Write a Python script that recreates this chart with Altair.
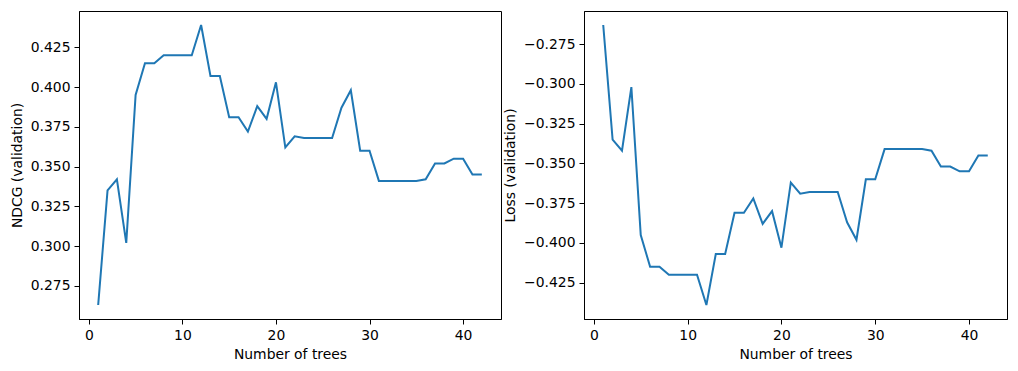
import altair as alt
import pandas as pd

trees = [1, 2, 3, 4, 5, 6, 7, 8, 9, 10, 11, 12, 13, 14, 15, 16, 17, 18, 19, 20, 21,
         22, 23, 24, 25, 26, 27, 28, 29, 30, 31, 32, 33, 34, 35, 36, 37, 38, 39, 40, 41, 42]

ndcg = [0.263, 0.335, 0.342, 0.302, 0.395, 0.415, 0.415, 0.420, 0.420, 0.420, 0.420,
        0.439, 0.407, 0.407, 0.381, 0.381, 0.372, 0.388, 0.380, 0.403, 0.362, 0.369,
        0.368, 0.368, 0.368, 0.368, 0.387, 0.398, 0.360, 0.360, 0.341, 0.341, 0.341,
        0.341, 0.341, 0.342, 0.352, 0.352, 0.355, 0.355, 0.345, 0.345]

loss = [-0.263, -0.335, -0.342, -0.302, -0.395, -0.415, -0.415, -0.420, -0.420, -0.420, -0.420,
        -0.439, -0.407, -0.407, -0.381, -0.381, -0.372, -0.388, -0.380, -0.403, -0.362, -0.369,
        -0.368, -0.368, -0.368, -0.368, -0.387, -0.398, -0.360, -0.360, -0.341, -0.341, -0.341,
        -0.341, -0.341, -0.342, -0.352, -0.352, -0.355, -0.355, -0.345, -0.345]

x_ticks = [0, 10, 20, 30, 40]
ndcg_ticks = [0.275, 0.300, 0.325, 0.350, 0.375, 0.400, 0.425]
loss_ticks = [-0.425, -0.400, -0.375, -0.350, -0.325, -0.300, -0.275]

df = pd.DataFrame({"trees": trees, "ndcg": ndcg, "loss": loss})


def margin_domain(vals, frac=0.05):
    lo, hi = min(vals), max(vals)
    m = (hi - lo) * frac
    return [lo - m, hi + m]


def panel(field, title, ticks, width):
    return alt.Chart(df).mark_line(color="#1f77b4", strokeWidth=2).encode(
        x=alt.X("trees:Q", title="Number of trees",
                scale=alt.Scale(domain=margin_domain(trees), nice=False, zero=False),
                axis=alt.Axis(values=x_ticks, format="d")),
        y=alt.Y(f"{field}:Q", title=title,
                scale=alt.Scale(domain=margin_domain(df[field].tolist()), nice=False, zero=False),
                axis=alt.Axis(values=ticks, format=".3f")),
    ).properties(width=width, height=308)


left = panel("ndcg", "NDCG (validation)", ndcg_ticks, 422)
right = panel("loss", "Loss (validation)", loss_ticks, 423)

chart = alt.hconcat(left, right, spacing=1).properties(
    padding={"left": 1, "top": 2, "right": 0, "bottom": 0}
).configure_axis(
    domainColor="black", tickColor="black", labelColor="black", titleColor="black",
    labelFont="DejaVu Sans", titleFont="DejaVu Sans",
    labelFontSize=13.9, titleFontSize=13.9, titleFontWeight="normal",
    grid=False, tickSize=5, labelPadding=4, titlePadding=6,
    domainWidth=1, tickWidth=1,
).configure_view(stroke="black", strokeWidth=1)

chart.save("out.html", embed_options={"renderer": "svg", "actions": False})
